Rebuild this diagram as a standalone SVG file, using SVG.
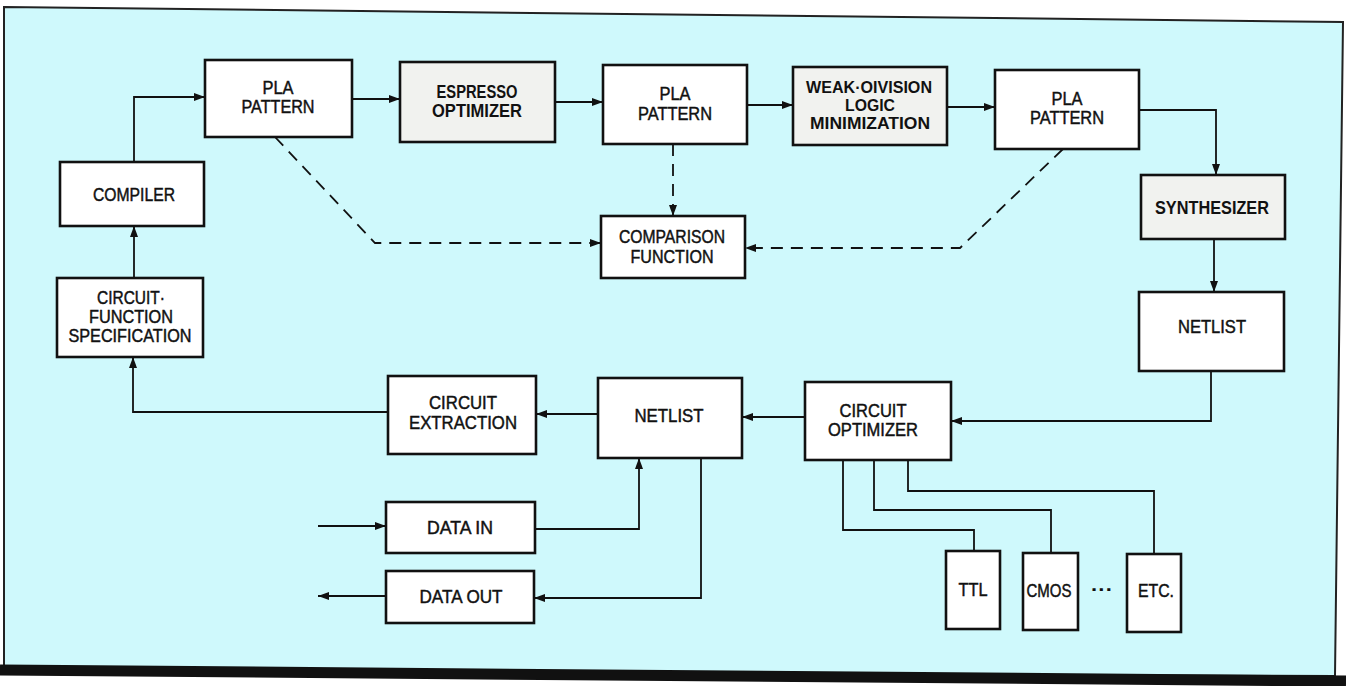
<svg xmlns="http://www.w3.org/2000/svg" width="1346" height="686" viewBox="0 0 1346 686">
<style>
.box{fill:#ffffff;stroke:#111;stroke-width:2.6}
.gbox{fill:#f1f2ef;stroke:#111;stroke-width:2.6}
.t{font-family:"Liberation Sans",Arial,sans-serif;font-size:18px;fill:#111;text-anchor:middle;stroke:#111;stroke-width:0.45}
.b{font-family:"Liberation Sans",Arial,sans-serif;font-size:18px;font-weight:bold;fill:#111;text-anchor:middle}
.bs{font-family:"Liberation Sans",Arial,sans-serif;font-size:16px;font-weight:bold;fill:#111;text-anchor:middle}
.ln{fill:none;stroke:#111;stroke-width:1.8}
.dl{fill:none;stroke:#111;stroke-width:1.8;stroke-dasharray:12 8}
</style>
<defs>
<marker id="ah" markerUnits="userSpaceOnUse" markerWidth="11" markerHeight="8" refX="11" refY="4" orient="auto">
<path d="M0,0 L11,4 L0,8 z" fill="#111"/>
</marker>
</defs>
<rect x="0" y="0" width="1346" height="686" fill="#ffffff"/>
<g id="frame">
<polygon points="4,7 1343,22 1335,676 4,672" fill="#cff9fc" stroke="#222" stroke-width="2"/>
<line x1="0" y1="670" x2="1346" y2="681" stroke="#111" stroke-width="11"/>
</g>
<g id="connectors">
<path class="ln" d="M134,162 V97 H205" marker-end="url(#ah)"/>
<path class="ln" d="M352,99 H400" marker-end="url(#ah)"/>
<path class="ln" d="M555,102 H603" marker-end="url(#ah)"/>
<path class="ln" d="M747,105 H793" marker-end="url(#ah)"/>
<path class="ln" d="M947,107 H995" marker-end="url(#ah)"/>
<path class="ln" d="M1139,110 H1216 V175" marker-end="url(#ah)"/>
<path class="ln" d="M1214,239 V292" marker-end="url(#ah)"/>
<path class="ln" d="M1211,371 V421 H951" marker-end="url(#ah)"/>
<path class="ln" d="M805,417 H742" marker-end="url(#ah)"/>
<path class="ln" d="M598,414 H536" marker-end="url(#ah)"/>
<path class="ln" d="M388,412 H133 V357" marker-end="url(#ah)"/>
<path class="ln" d="M134,278 V226" marker-end="url(#ah)"/>
<path class="ln" d="M318,526 H386" marker-end="url(#ah)"/>
<path class="ln" d="M535,529 H639 V458" marker-end="url(#ah)"/>
<path class="ln" d="M701,458 V598 H534" marker-end="url(#ah)"/>
<path class="ln" d="M386,596 H318" marker-end="url(#ah)"/>
<path class="ln" d="M843,460 V530 H974 V551"/>
<path class="ln" d="M874,460 V510 H1051 V553"/>
<path class="ln" d="M908,460 V491 H1154 V554"/>
<path class="dl" d="M275,137 L375,243 H601" marker-end="url(#ah)"/>
<path class="dl" d="M673,144 V216" marker-end="url(#ah)"/>
<path class="dl" d="M1063,149 L960,248 H745" marker-end="url(#ah)"/>
</g>
<g id="pla1"><rect class="box" x="205" y="60" width="147" height="77"/><text class="t" x="278" y="94" textLength="31" lengthAdjust="spacingAndGlyphs">PLA</text><text class="t" x="278" y="113" textLength="73" lengthAdjust="spacingAndGlyphs">PATTERN</text></g>
<g id="espresso"><rect class="gbox" x="400" y="62" width="155" height="80"/><text class="b" x="477" y="98" textLength="81" lengthAdjust="spacingAndGlyphs">ESPRESSO</text><text class="b" x="477" y="117" textLength="90" lengthAdjust="spacingAndGlyphs">OPTIMIZER</text></g>
<g id="pla2"><rect class="box" x="603" y="65" width="144" height="79"/><text class="t" x="675" y="100" textLength="31" lengthAdjust="spacingAndGlyphs">PLA</text><text class="t" x="675" y="120" textLength="74" lengthAdjust="spacingAndGlyphs">PATTERN</text></g>
<g id="weak"><rect class="gbox" x="793" y="67" width="154" height="78"/><text class="bs" x="869" y="93" textLength="126" lengthAdjust="spacingAndGlyphs">WEAK·OIVISION</text><text class="bs" x="870" y="111" textLength="50" lengthAdjust="spacingAndGlyphs">LOGIC</text><text class="bs" x="870" y="129" textLength="120" lengthAdjust="spacingAndGlyphs">MINIMIZATION</text></g>
<g id="pla3"><rect class="box" x="995" y="70" width="144" height="79"/><text class="t" x="1067" y="105" textLength="31" lengthAdjust="spacingAndGlyphs">PLA</text><text class="t" x="1067" y="124" textLength="74" lengthAdjust="spacingAndGlyphs">PATTERN</text></g>
<g id="synth"><rect class="gbox" x="1141" y="175" width="144" height="64"/><text class="b" x="1212" y="214" textLength="114" lengthAdjust="spacingAndGlyphs">SYNTHESIZER</text></g>
<g id="netlist-r"><rect class="box" x="1139" y="292" width="145" height="79"/><text class="t" x="1212" y="333" textLength="68" lengthAdjust="spacingAndGlyphs">NETLIST</text></g>
<g id="compiler"><rect class="box" x="60" y="162" width="144" height="64"/><text class="t" x="134" y="201" textLength="82" lengthAdjust="spacingAndGlyphs">COMPILER</text></g>
<g id="cfs"><rect class="box" x="57" y="278" width="146" height="79"/><text class="t" x="131" y="304" textLength="68" lengthAdjust="spacingAndGlyphs">CIRCUIT·</text><text class="t" x="131" y="323" textLength="84" lengthAdjust="spacingAndGlyphs">FUNCTION</text><text class="t" x="130" y="342" textLength="123" lengthAdjust="spacingAndGlyphs">SPECIFICATION</text></g>
<g id="comparison"><rect class="box" x="601" y="216" width="144" height="62"/><text class="t" x="672" y="243" textLength="106" lengthAdjust="spacingAndGlyphs">COMPARISON</text><text class="t" x="672" y="263" textLength="83" lengthAdjust="spacingAndGlyphs">FUNCTION</text></g>
<g id="extraction"><rect class="box" x="388" y="376" width="148" height="78"/><text class="t" x="463" y="409" textLength="68" lengthAdjust="spacingAndGlyphs">CIRCUIT</text><text class="t" x="463" y="429" textLength="108" lengthAdjust="spacingAndGlyphs">EXTRACTION</text></g>
<g id="netlist-m"><rect class="box" x="598" y="378" width="144" height="80"/><text class="t" x="669" y="422" textLength="69" lengthAdjust="spacingAndGlyphs">NETLIST</text></g>
<g id="optimizer"><rect class="box" x="805" y="382" width="146" height="78"/><text class="t" x="873" y="417" textLength="67" lengthAdjust="spacingAndGlyphs">CIRCUIT</text><text class="t" x="873" y="436" textLength="90" lengthAdjust="spacingAndGlyphs">OPTIMIZER</text></g>
<g id="datain"><rect class="box" x="386" y="502" width="149" height="51"/><text class="t" x="460" y="534" textLength="66" lengthAdjust="spacingAndGlyphs">DATA IN</text></g>
<g id="dataout"><rect class="box" x="386" y="571" width="148" height="52"/><text class="t" x="461" y="603" textLength="83" lengthAdjust="spacingAndGlyphs">DATA OUT</text></g>
<g id="ttl"><rect class="box" x="946" y="551" width="54" height="78"/><text class="t" x="973" y="596" textLength="29" lengthAdjust="spacingAndGlyphs">TTL</text></g>
<g id="cmos"><rect class="box" x="1023" y="553" width="55" height="77"/><text class="t" x="1049" y="597" textLength="45" lengthAdjust="spacingAndGlyphs">CMOS</text></g>
<g id="dots"><text class="b" x="1102" y="596" textLength="22" lengthAdjust="spacingAndGlyphs">···</text></g>
<g id="etc"><rect class="box" x="1127" y="554" width="54" height="78"/><text class="t" x="1156" y="597" textLength="36" lengthAdjust="spacingAndGlyphs">ETC.</text></g>
</svg>
